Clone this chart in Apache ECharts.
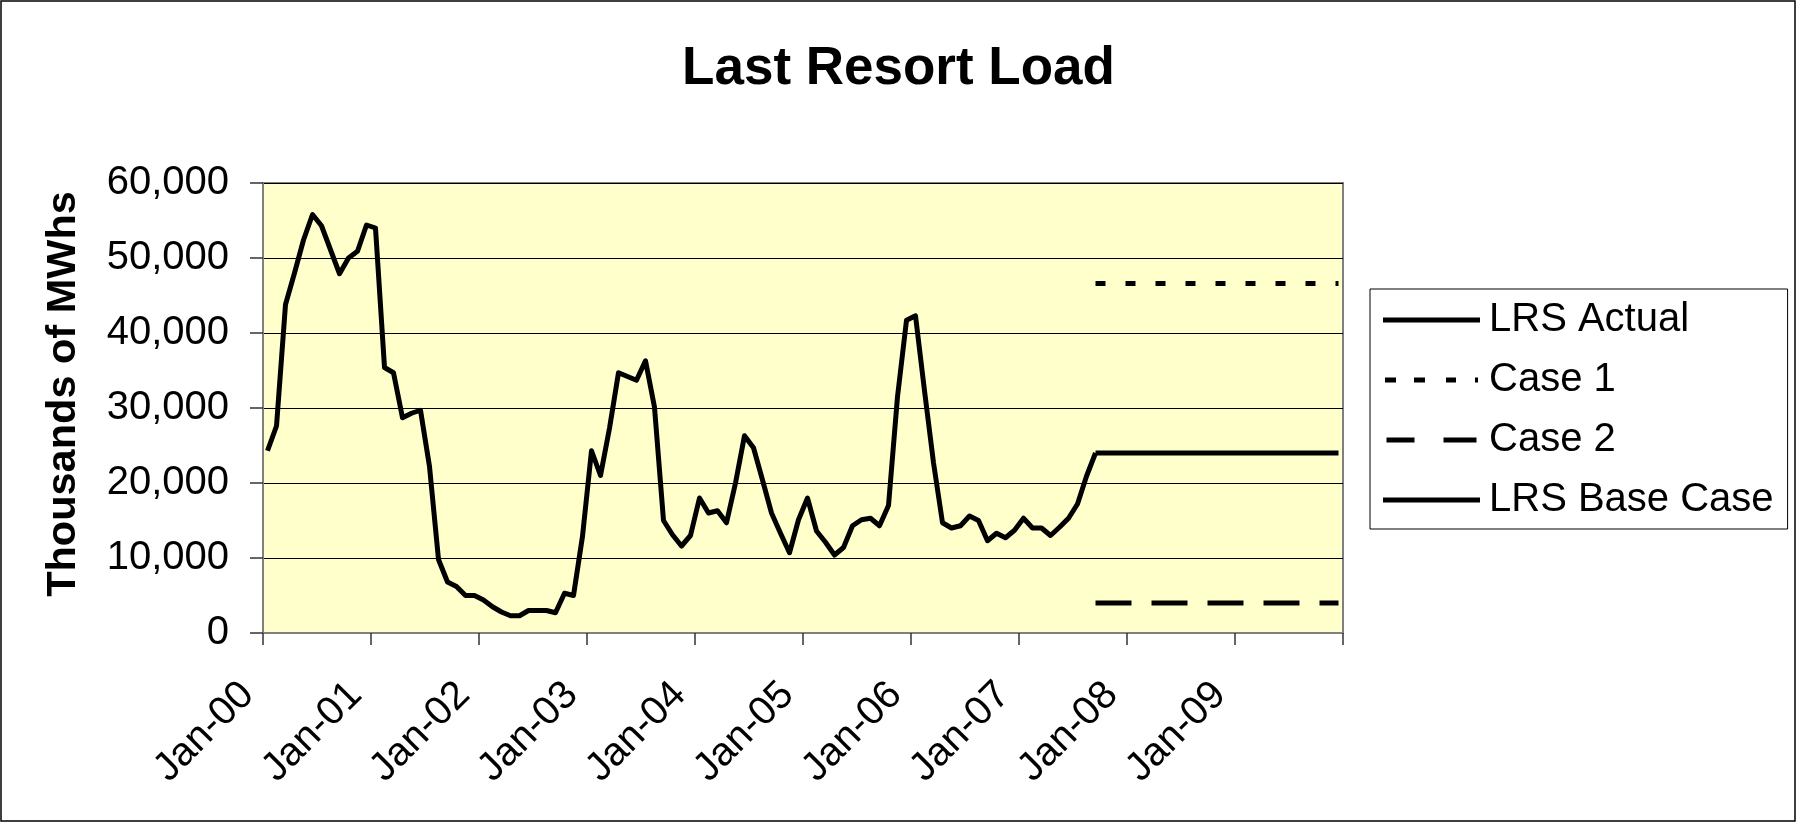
<!DOCTYPE html>
<html>
<head>
<meta charset="utf-8">
<script src="https://cdn.jsdelivr.net/npm/echarts@6/dist/echarts.min.js"></script>
<style>
html,body{margin:0;padding:0;background:#fff;}
#chart{width:1797px;height:823px;}
</style>
</head>
<body>
<div id="chart"></div>
<script>
// ---- data ----
const monthNames = ['Jan','Feb','Mar','Apr','May','Jun','Jul','Aug','Sep','Oct','Nov','Dec'];
const yearSuffixes = ['00','01','02','03','04','05','06','07','08','09'];
const categories = [];
yearSuffixes.forEach(y => monthNames.forEach(m => categories.push(m + '-' + y)));

// LRS Actual, Jan-00 .. Sep-07 (thousands of MWh)
const lrsActual = [
  24300, 27600, 43800, 48000, 52400, 55800, 54300, 51100, 47900, 50000, 50900, 54400,
  54000, 35400, 34700, 28700, 29300, 29700, 22200, 9800, 6800, 6200, 5000, 5000,
  4400, 3500, 2800, 2300, 2300, 3000, 3000, 3000, 2700, 5300, 5000, 12900,
  24300, 21000, 27300, 34700, 34200, 33700, 36300, 30100, 15000, 13100, 11600, 13000,
  18000, 16000, 16300, 14700, 20000, 26300, 24700, 20400, 16000, 13300, 10700, 15100,
  18000, 13600, 12100, 10400, 11400, 14300, 15100, 15300, 14300, 17000, 31500, 41700,
  42300, 32300, 22700, 14700, 14000, 14300, 15600, 15000, 12300, 13300, 12700, 13700,
  15300, 14000, 14000, 13000, 14100, 15300, 17200, 20900, 24000
];
// Projections, Sep-07 .. Dec-09
const projStart = 92;
const case1 = [46600,46600,46600,46600,46600,46600,46600,46600,46600,46600,46600,46600,46600,46600,
               46600,46600,46600,46600,46600,46600,46600,46600,46600,46600,46600,46600,46600,46600];
const case2 = [4000,4000,4000,4000,4000,4000,4000,4000,4000,4000,4000,4000,4000,4000,
               4000,4000,4000,4000,4000,4000,4000,4000,4000,4000,4000,4000,4000,4000];
const lrsBase = [24000,24000,24000,24000,24000,24000,24000,24000,24000,24000,24000,24000,24000,24000,
                 24000,24000,24000,24000,24000,24000,24000,24000,24000,24000,24000,24000,24000,24000];
const yTicks = [0, 10000, 20000, 30000, 40000, 50000, 60000];

function pairs(vals, start) {
  return vals.map((v, i) => [categories[start + i], v]);
}

const FONT = '"Liberation Sans", Arial, sans-serif';
const ICON_SOLID = 'path://M0,0H97V5H0Z';
const ICON_DOT = 'path://M3,0H14V5H3Z M32,0H43V5H32Z M64,0H74V5H64Z M93,0H96V5H93Z';
const ICON_DASH = 'path://M2,0H30V5H2Z M59,0H92V5H59Z';

const chart = echarts.init(document.getElementById('chart'), null, {renderer: 'canvas'});
chart.setOption({
  backgroundColor: '#ffffff',
  animation: false,
  title: {
    text: 'Last Resort Load',
    left: 'center',
    top: 43,
    padding: 0,
    textStyle: {fontFamily: FONT, fontSize: 53, fontWeight: 'bold', color: '#000'}
  },
  legend: {
    orient: 'vertical',
    left: 1370,
    top: 289,
    padding: [11, 14, 9, 13],
    itemGap: 20,
    itemWidth: 97,
    itemHeight: 5,
    borderColor: '#000',
    borderWidth: 1,
    backgroundColor: '#fff',
    textStyle: {fontFamily: FONT, fontSize: 40, color: '#000', padding: [0, 0, 0, 4]},
    data: [
      {name: 'LRS Actual', icon: ICON_SOLID},
      {name: 'Case 1', icon: ICON_DOT},
      {name: 'Case 2', icon: ICON_DASH},
      {name: 'LRS Base Case', icon: ICON_SOLID}
    ]
  },
  grid: {
    left: 263, top: 183, width: 1080, height: 450,
    show: true, backgroundColor: '#FFFFCC', borderColor: '#808080', borderWidth: 2
  },
  xAxis: {
    type: 'category',
    data: categories,
    boundaryGap: true,
    axisLine: {lineStyle: {color: '#808080', width: 2}},
    axisTick: {show: true, interval: 11, length: 12, lineStyle: {color: '#333', width: 1.5}},
    axisLabel: {
      interval: 11, rotate: 45, margin: 36, padding: [0, 28, 0, 0],
      fontFamily: FONT, fontSize: 40, color: '#000'
    },
    splitLine: {show: false}
  },
  yAxis: {
    type: 'value',
    min: 0, max: 60000, interval: 10000,
    name: 'Thousands of MWhs',
    nameLocation: 'middle',
    nameGap: 178,
    nameTextStyle: {fontFamily: FONT, fontSize: 41.5, fontWeight: 'bold', color: '#000', padding: [0, 0, 0, 28]},
    axisLine: {show: true, lineStyle: {color: '#808080', width: 2}},
    axisTick: {show: true, length: 13, lineStyle: {color: '#333', width: 1.5}},
    axisLabel: {
      margin: 34, fontFamily: FONT, fontSize: 40, color: '#000',
      formatter: v => yTicks.indexOf(v) >= 0 ? v.toLocaleString('en-US') : ''
    },
    splitLine: {show: true, lineStyle: {color: '#000', width: 1}}
  },
  series: [
    {
      name: 'LRS Actual', type: 'line', data: pairs(lrsActual, 0),
      symbol: 'none', lineStyle: {color: '#000', width: 5, join: 'round'}, itemStyle: {color: '#000'}
    },
    {
      name: 'Case 1', type: 'line', data: pairs(case1, projStart),
      symbol: 'none', lineStyle: {color: '#000', width: 5, type: [10, 20], cap: 'butt'}, itemStyle: {color: '#000'}
    },
    {
      name: 'Case 2', type: 'line', data: pairs(case2, projStart),
      symbol: 'none', lineStyle: {color: '#000', width: 5, type: [36, 20], cap: 'butt'}, itemStyle: {color: '#000'}
    },
    {
      name: 'LRS Base Case', type: 'line', data: pairs(lrsBase, projStart),
      symbol: 'none', lineStyle: {color: '#000', width: 5}, itemStyle: {color: '#000'}
    }
  ],
  graphic: [{
    type: 'rect', silent: true, z: 100,
    shape: {x: 1, y: 1, width: 1794, height: 820},
    style: {fill: null, stroke: '#000', lineWidth: 1.5}
  }]
});
</script>
</body>
</html>
